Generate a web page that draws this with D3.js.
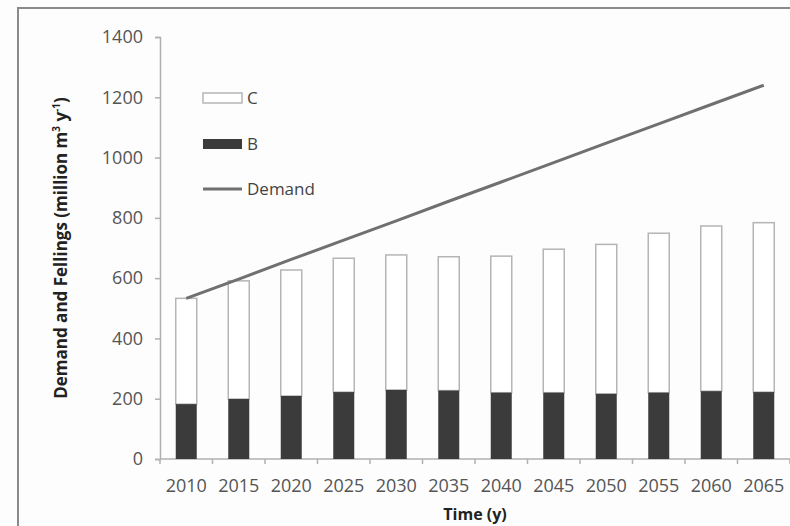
<!DOCTYPE html>
<html>
<head>
<meta charset="utf-8">
<script src="https://cdn.jsdelivr.net/npm/d3@7"></script>
<style>
  body { margin: 0; background: #fff; }
  svg { display: block; }
</style>
</head>
<body>
<div id="chart"></div>
<script>
// Values (million m3 per year)
const years = ['2010', '2015', '2020', '2025', '2030', '2035', '2040', '2045', '2050', '2055', '2060', '2065'];
const fellingsB = [182, 199, 209, 222, 229, 227, 220, 220, 216, 220, 225, 222];
const fellingsTotal = [533, 591, 627, 666, 677, 671, 673, 696, 712, 749, 773, 784];
const demand = [533, 597, 662, 726, 790, 855, 919, 983, 1048, 1112, 1176, 1240];
const yTicks = [0, 200, 400, 600, 800, 1000, 1200, 1400];

(function() {
    const W = 790, H = 526;
    const margin = {top: 37, right: 0, bottom: 67, left: 160};
    const width = W - margin.left - margin.right;
    const height = H - margin.top - margin.bottom;

    const root = d3.select('#chart')
        .append('svg')
        .attr('width', W)
        .attr('height', H);

    // page background + clipped outer frame
    root.append('rect').attr('width', W).attr('height', H).attr('fill', '#fdfdfd');
    root.append('rect')
        .attr('x', 18).attr('y', 8)
        .attr('width', W + 20).attr('height', H + 20)
        .attr('fill', 'none')
        .attr('stroke', '#8a8a8a')
        .attr('stroke-width', 2);

    const svg = root.append('g')
        .attr('transform', `translate(${margin.left},${margin.top})`);

    const x = d3.scaleBand()
        .domain(years)
        .range([0, width])
        .paddingInner(0.6)
        .paddingOuter(0.3);

    const y = d3.scaleLinear()
        .domain([0, 1400])
        .range([height, 0]);

    // Y axis
    const yAxis = svg.append('g')
        .call(d3.axisLeft(y).tickValues(yTicks).tickSize(5).tickPadding(12).tickFormat(d3.format('d')));
    yAxis.select('.domain').attr('stroke', '#b0b0b0').attr('stroke-width', 1.5);
    yAxis.selectAll('.tick line').attr('stroke', '#b0b0b0').attr('stroke-width', 1.5);
    yAxis.selectAll('.tick text')
        .style('font-family', 'Open Sans, sans-serif')
        .style('font-size', '18px')
        .attr('fill', '#555');

    // X axis: ticks at band boundaries, labels at band centres
    const step = x.step();
    const xAxis = svg.append('g').attr('transform', `translate(0,${height})`);
    xAxis.append('line')
        .attr('x1', 0).attr('x2', width)
        .attr('stroke', '#b0b0b0').attr('stroke-width', 1.5);
    xAxis.selectAll('.xt')
        .data(d3.range(years.length + 1))
        .enter().append('line')
        .attr('x1', i => i * step).attr('x2', i => i * step)
        .attr('y1', 0).attr('y2', 5)
        .attr('stroke', '#b0b0b0').attr('stroke-width', 1.5);
    xAxis.selectAll('.xl')
        .data(years)
        .enter().append('text')
        .attr('x', d => x(d) + x.bandwidth() / 2)
        .attr('y', 33)
        .attr('text-anchor', 'middle')
        .style('font-family', 'Open Sans, sans-serif')
        .style('font-size', '18px')
        .attr('fill', '#555')
        .text(d => d);

    // Stacked bars: total (C on top) then B
    svg.selectAll('.barC')
        .data(years)
        .enter().append('rect')
        .attr('x', d => x(d))
        .attr('y', (d, i) => y(fellingsTotal[i]))
        .attr('width', x.bandwidth())
        .attr('height', (d, i) => y(fellingsB[i]) - y(fellingsTotal[i]))
        .attr('fill', '#fff')
        .attr('stroke', '#b5b5b5')
        .attr('stroke-width', 1.5);

    svg.selectAll('.barB')
        .data(years)
        .enter().append('rect')
        .attr('x', d => x(d))
        .attr('y', (d, i) => y(fellingsB[i]))
        .attr('width', x.bandwidth())
        .attr('height', (d, i) => height - y(fellingsB[i]))
        .attr('fill', '#3b3b3b');

    // Demand line
    const line = d3.line()
        .x((d, i) => x(years[i]) + x.bandwidth() / 2)
        .y(d => y(d));
    svg.append('path')
        .datum(demand)
        .attr('d', line)
        .attr('fill', 'none')
        .attr('stroke', '#707070')
        .attr('stroke-width', 3);

    // Legend
    const legend = root.append('g').attr('transform', 'translate(203,0)');
    legend.append('rect')
        .attr('x', 0).attr('y', 93).attr('width', 39).attr('height', 10)
        .attr('fill', '#fff').attr('stroke', '#b5b5b5').attr('stroke-width', 1.5);
    legend.append('rect')
        .attr('x', 0).attr('y', 139).attr('width', 39).attr('height', 10)
        .attr('fill', '#3b3b3b');
    legend.append('line')
        .attr('x1', 0).attr('x2', 39).attr('y1', 189).attr('y2', 189)
        .attr('stroke', '#707070').attr('stroke-width', 3);
    [['C', 98], ['B', 144], ['Demand', 189]].forEach(([t, ly]) => {
        legend.append('text')
            .attr('x', 44).attr('y', ly)
            .attr('dy', '0.35em')
            .style('font-family', 'Open Sans, sans-serif')
            .style('font-size', '17px')
            .attr('fill', '#444')
            .text(t);
    });

    // Axis titles
    const yTitle = root.append('text')
        .attr('transform', `translate(67,${margin.top + height / 2}) rotate(-90)`)
        .attr('text-anchor', 'middle')
        .style('font-family', 'Open Sans, sans-serif')
        .style('font-size', '17px')
        .style('font-weight', 'bold')
        .attr('fill', '#222');
    yTitle.append('tspan').text('Demand and Fellings (million m');
    yTitle.append('tspan').attr('baseline-shift', 'super').style('font-size', '10px').text('3');
    yTitle.append('tspan').text(' y');
    yTitle.append('tspan').attr('baseline-shift', 'super').style('font-size', '10px').text('-1');
    yTitle.append('tspan').text(')');

    root.append('text')
        .attr('x', margin.left + width / 2)
        .attr('y', 520)
        .attr('text-anchor', 'middle')
        .style('font-family', 'Open Sans, sans-serif')
        .style('font-size', '16px')
        .style('font-weight', 'bold')
        .attr('fill', '#222')
        .text('Time (y)');
})();
</script>
</body>
</html>
